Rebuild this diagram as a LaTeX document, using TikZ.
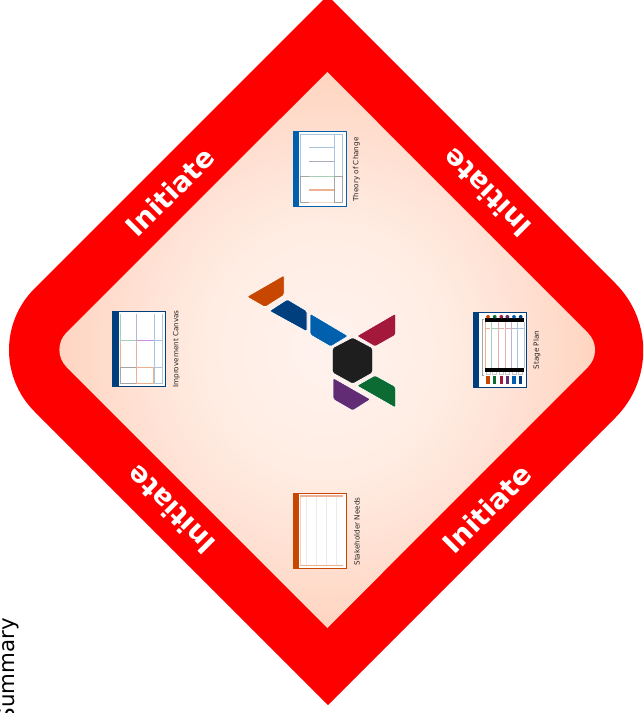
\documentclass[tikz,border=0pt]{standalone}
\usepackage{fontspec}
\newfontfamily\lblfont{DejaVu Sans}
\definecolor{cA}{HTML}{FFF2EE}
\definecolor{cB}{HTML}{FFEDE3}
\definecolor{cC}{HTML}{FFE2D5}
\definecolor{cD}{HTML}{FFD4C0}
\definecolor{tOrange}{HTML}{C74600}
\definecolor{tNavy}{HTML}{003F7D}
\definecolor{tBlue}{HTML}{0060AE}
\definecolor{tRed}{HTML}{A4183C}
\definecolor{tGreen}{HTML}{0B6B33}
\definecolor{tPurple}{HTML}{622C74}
\definecolor{tDark}{HTML}{1E1E1E}
\definecolor{pBlue}{HTML}{A9C6E0}
\definecolor{pGray}{HTML}{A5A5A5}
\definecolor{pGreen}{HTML}{A8CFB5}
\definecolor{pMauve}{HTML}{BDB2D0}
\definecolor{pOrange}{HTML}{EDB090}
\definecolor{pPink}{HTML}{E5B0B0}
\pgfdeclareradialshading{peach}{\pgfpoint{0bp}{0bp}}{%
  color(0bp)=(cA); color(11bp)=(cB); color(17.5bp)=(cC); color(25bp)=(cD); color(50bp)=(cD)}
\tikzset{
  band/.style={white,font=\lblfont\bfseries\fontsize{20.6}{24}\selectfont,inner sep=0pt},
  iconlabel/.style={black!85,font=\lblfont\fontsize{5.4}{6}\selectfont,rotate=90,inner sep=0pt},
  tile/.style={draw=white,line width=.5pt,rounded corners=1.2pt},
  fine/.style={line width=.7pt},
  frame/.style={fill=white,line width=1pt}
}
\begin{document}
\begin{tikzpicture}[x=.75pt,y=-.75pt]
\useasboundingbox (0,0) rectangle (643,713);
\clip (0,0) rectangle (643,713);
% red band
\fill[red] (327.5,-4.5) -- (615.5,283.5) .. controls (652.5,320.5) and (652.5,380.5) .. (615.5,417.5)
  -- (328,705) -- (34.5,411.5) .. controls (0.5,377.5) and (0.5,322.5) .. (34.5,288.5) -- cycle;
\shade[shading=peach] (327.3,72) -- (588,333) .. controls (597.4,342.6) and (597.4,357.4) .. (588,367)
  -- (327.3,628) -- (66.5,367) .. controls (57,357.5) and (57,342) .. (66.5,332.5) -- cycle;
% band labels
\node[band,rotate=45] (ul) at (170,192) {Initiate};
\node[band,rotate=135] (ur) at (487,193) {Initiate};
\node[band,rotate=135] (ll) at (171,510) {Initiate};
\node[band,rotate=45] (lr) at (487,509) {Initiate};
% logo
\fill[tile,fill=tDark] (352.7,337.3) -- (372.7,348) -- (372.7,372.7) -- (352.7,384) -- (332.3,372.7) -- (332.3,348) -- cycle;
\fill[tile,fill=tOrange] (284.3,275) -- (284.3,295) -- (265,307.3) -- (246.7,296.7) -- cycle;
\fill[tile,fill=tNavy] (287.3,299.3) -- (307,311) -- (307,331.7) -- (269.3,311) -- cycle;
\fill[tile,fill=tBlue] (310,313.3) -- (348.3,336) -- (330.7,346.7) -- (310,334.7) -- cycle;
\fill[tile,fill=tRed] (395.7,313.3) -- (395.7,335) -- (375,346.7) -- (356.7,336) -- cycle;
\fill[tile,fill=tGreen] (375,375.3) -- (395.7,386.7) -- (395.7,408) -- (356.7,385.7) -- cycle;
\fill[tile,fill=tPurple] (333,377.7) -- (370.7,399.3) -- (352.7,410.7) -- (333,399.3) -- cycle;
% Theory of Change
\filldraw[frame,draw=tBlue] (293.2,131.2) rectangle (346.2,206.8);
\fill[tBlue] (292.7,130.7) rectangle (299,207.3);
\draw[fine,pBlue] (300,134) rectangle (342.7,176);
\draw[fine,pBlue] (334,134) -- (334,176);
\draw[fine,pGray] (300,176) rectangle (342.7,202.7);
\draw[fine,pGray] (334,176) -- (334,202.7);
\draw[fine,pBlue] (309,147.3) -- (333.5,147.3);
\draw[fine,pMauve!80!gray] (309,161.7) -- (333.5,161.7);
\draw[fine,pGreen] (309,176) -- (333.5,176);
\draw[line width=.9pt,pOrange] (309,190) -- (333.5,190);
\draw[fine,pOrange!50] (309,202.7) -- (333.5,202.7);
\node[iconlabel] (toc) at (356.5,169.5) {Theory of Change};
% Improvement Canvas
\filldraw[frame,draw=tNavy] (112.8,311.2) rectangle (165.5,386.8);
\fill[tNavy] (112.3,310.7) rectangle (119,387.3);
\draw[fine,pGreen] (120,314) -- (120,340.7) -- (136,340.7) -- (136,314);
\draw[fine,pMauve] (136.7,314) -- (136.7,340.7);
\draw[fine,pMauve] (154,314) -- (154,340.7);
\draw[fine,pBlue] (154.7,314) -- (154.7,340.7) (162.7,314) -- (162.7,340.7);
\draw[line width=.9pt,pMauve!80!magenta] (137,340.7) -- (153.5,340.7);
\draw[line width=.9pt,pBlue] (154.5,340.7) -- (162.7,340.7);
\draw[fine,pOrange] (120,341) -- (120,367.3);
\draw[fine,pPink] (136,341) -- (136,367.3);
\draw[fine,pBlue] (154,341) -- (154,367.3) (162.7,341) -- (162.7,367.3);
\draw[fine,pGray] (120,367.3) -- (136,367.3) (120,367.3) -- (120,383.3) -- (136,383.3) -- (136,367.3);
\draw[fine,pOrange] (136.7,367.3) -- (153.5,367.3) (136.7,367.3) -- (136.7,383.3) -- (153.5,383.3) -- (153.5,367.3);
\draw[fine,pBlue] (154.5,367.3) -- (162.7,367.3) -- (162.7,383.3) -- (154.5,383.3) -- cycle;
\node[iconlabel] (ic) at (176.5,349) {Improvement Canvas};
% Stage Plan
\filldraw[frame,draw=tNavy] (473.5,312.2) rectangle (526.5,387.8);
\fill[tNavy] (473,311.7) rectangle (479.3,388.3);
\draw[fine,pGray] (481.5,319) -- (483.5,319) (482.5,319) -- (482.5,375) (481.5,375) -- (483.5,375);
\draw[fine,pOrange] (485.5,322) -- (485.5,368) (485.5,328.3) -- (490,328.3);
\draw[fine,pGreen] (491.3,322) -- (491.3,368) (491.3,328.3) -- (498,328.3);
\draw[fine,pPink] (498.7,322) -- (498.7,368) (498.7,328.3) -- (504,328.3);
\draw[fine,pPink] (505,322) -- (505,368) (505,328.3) -- (511,328.3);
\draw[line width=.9pt,pMauve] (511.5,322) -- (511.5,368) (511.5,328.3) -- (517,328.3);
\draw[fine,pBlue] (517.5,322) -- (517.5,368) (517.5,328.3) -- (524,328.3);
\draw[fine,pBlue] (524,322) -- (524,368);
\fill[black] (485.3,318) rectangle (524,322);
\fill[black] (485.3,368) rectangle (524,371.7);
\foreach \xa/\c in {486/tOrange,492.7/tGreen,499.3/tRed,505.3/tPurple,512/tBlue,518.7/tNavy}{
  \fill[\c,rounded corners=1.5pt] (\xa,318.5) -- (\xa,315) -- (\xa+4,315) -- (\xa+4,318.5) -- cycle;
  \fill[\c] (\xa+.3,376) rectangle (\xa+3.7,384);
  \draw[fine,pGray!60] (\xa,372) -- (\xa,374) -- (\xa+4,374) -- (\xa+4,372);
}
\node[iconlabel] (sp) at (537,350) {Stage Plan};
% Stakeholder Needs
\filldraw[frame,draw=tOrange] (293.2,493.2) rectangle (346.2,568.8);
\fill[tOrange] (292.7,492.7) rectangle (298.7,569.3);
\draw[fine,pOrange!60] (300,496) -- (300,565.3);
\draw[line width=.9pt,pOrange] (300,496) -- (343.3,496) (300,565.3) -- (343.3,565.3);
\foreach \xb in {306.7,316.7,326.7,336.7}
  \draw[fine,black!8] (\xb,496.5) -- (\xb,565);
\node[iconlabel] (sn) at (357,531.5) {Stakeholder Needs};
% stray caption
\node[black,font=\lblfont\fontsize{16}{18}\selectfont,rotate=90,anchor=base east,inner sep=0pt] (cap) at (14.5,618) {Summary};
\end{tikzpicture}
\end{document}
